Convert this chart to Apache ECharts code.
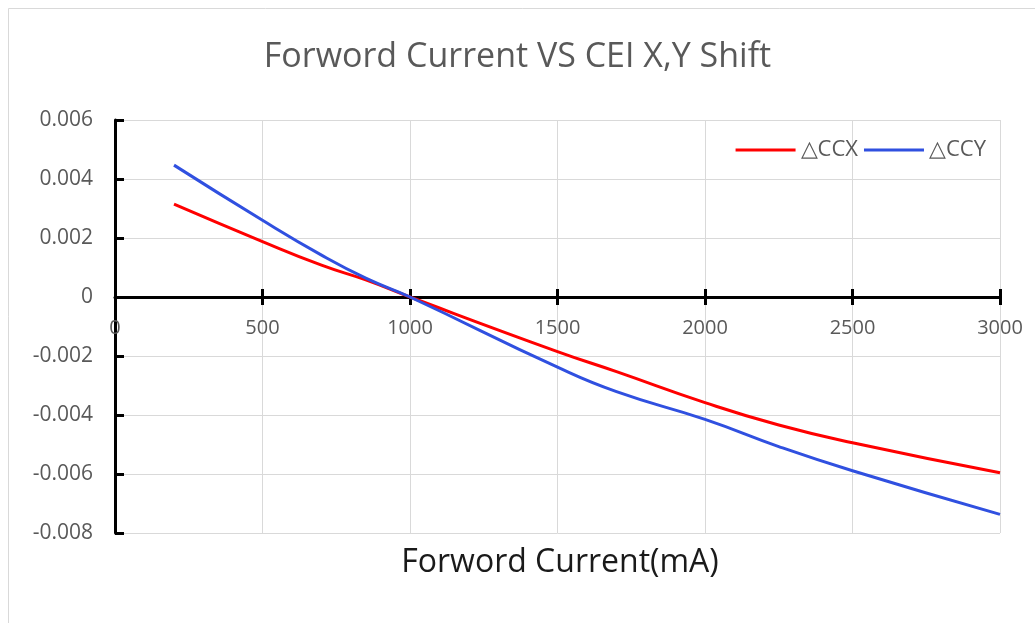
<!DOCTYPE html>
<html>
<head>
<meta charset="utf-8">
<script src="https://cdn.jsdelivr.net/npm/echarts@6/dist/echarts.min.js"></script>
<style>html,body{margin:0;padding:0;background:#fff}#c{width:1035px;height:623px}</style>
</head>
<body>
<div id="c"></div>
<script>
var currents = [200, 500, 700, 850, 1000, 1500, 1700, 2000, 2250, 2500, 3000];
var ccx = [0.00315, 0.00188, 0.00108, 0.00058, 0, -0.00185, -0.00253, -0.00358, -0.00434, -0.00494, -0.00596];
var ccy = [0.00447, 0.0026, 0.00142, 0.00064, 0, -0.00238, -0.00321, -0.00415, -0.00507, -0.00589, -0.00737];
var seriesNames = ['\u25b3CCX', '\u25b3CCY'];
var titleText = 'Forword Current VS CEI X,Y Shift';
var xName = 'Forword Current(mA)';

function pairs(xs, ys){ return xs.map(function(x,i){ return [x, ys[i]]; }); }

var chart = echarts.init(document.getElementById('c'));
var font = 'Open Sans';
var gridTop = 120, gridBottom = 90, chartH = 623;
var yMin = -0.008, yMax = 0.006;
var plotH = chartH - gridTop - gridBottom;
var topToZero = plotH * yMax / (yMax - yMin);
var bottomToZero = plotH * (-yMin) / (yMax - yMin);
chart.setOption({
  animation: false,
  backgroundColor: '#fff',
  graphic: [{
    type: 'rect', shape: {x: 8.5, y: 8.5, width: 1100, height: 700},
    style: {fill: 'none', stroke: '#d9d9d9', lineWidth: 1}, z: -10
  }, {
    type: 'text', x: 560, y: 563,
    style: {text: xName, fontSize: 32, fontFamily: font, fill: '#1a1a1a',
      textAlign: 'center', textVerticalAlign: 'middle'}
  }],
  title: {
    text: titleText, left: 'center', top: 35,
    textStyle: {fontSize: 34, fontWeight: 'normal', color: '#595959', fontFamily: font}
  },
  legend: {
    right: 44, top: 134, icon: 'rect', itemWidth: 60, itemHeight: 3, itemGap: 6,
    textStyle: {fontSize: 22, color: '#595959', fontFamily: font, width: 66},
    data: seriesNames
  },
  grid: {left: 115, right: 35, top: gridTop, bottom: gridBottom},
  xAxis: [{
    type: 'value', min: 0, max: 3000, interval: 500, position: 'bottom',
    offset: -bottomToZero,
    axisLine: {onZero: false, lineStyle: {color: '#000', width: 3}},
    axisTick: {show: true, inside: false, length: 8, lineStyle: {color: '#000', width: 3}},
    axisLabel: {margin: 21, fontSize: 20, color: '#595959', fontFamily: font,
      formatter: function(v){ return String(v); }},
    splitLine: {show: true, lineStyle: {color: '#d9d9d9', width: 1}}
  }, {
    type: 'value', min: 0, max: 3000, interval: 500, position: 'top',
    offset: -topToZero,
    axisLine: {show: false, onZero: false},
    axisTick: {show: true, inside: false, length: 8, lineStyle: {color: '#000', width: 3}},
    axisLabel: {show: false},
    splitLine: {show: false}
  }],
  yAxis: {
    type: 'value', min: yMin, max: yMax, interval: 0.002,
    axisLine: {show: true, onZero: false, lineStyle: {color: '#000', width: 3}},
    axisTick: {show: true, inside: true, length: 9, lineStyle: {color: '#000', width: 3}},
    axisLabel: {margin: 22, fontSize: 21, color: '#595959', fontFamily: font,
      formatter: function(v){ return Math.abs(v) < 1e-9 ? '0' : v.toFixed(3); }},
    splitLine: {show: true, lineStyle: {color: '#d9d9d9', width: 1}}
  },
  series: [{
    name: seriesNames[0], type: 'line', smooth: true, symbol: 'none',
    data: pairs(currents, ccx),
    lineStyle: {color: '#ff0000', width: 3}, itemStyle: {color: '#ff0000'}
  }, {
    name: seriesNames[1], type: 'line', smooth: true, symbol: 'none',
    data: pairs(currents, ccy),
    lineStyle: {color: '#3050e0', width: 3}, itemStyle: {color: '#3050e0'}
  }]
});
</script>
</body>
</html>
